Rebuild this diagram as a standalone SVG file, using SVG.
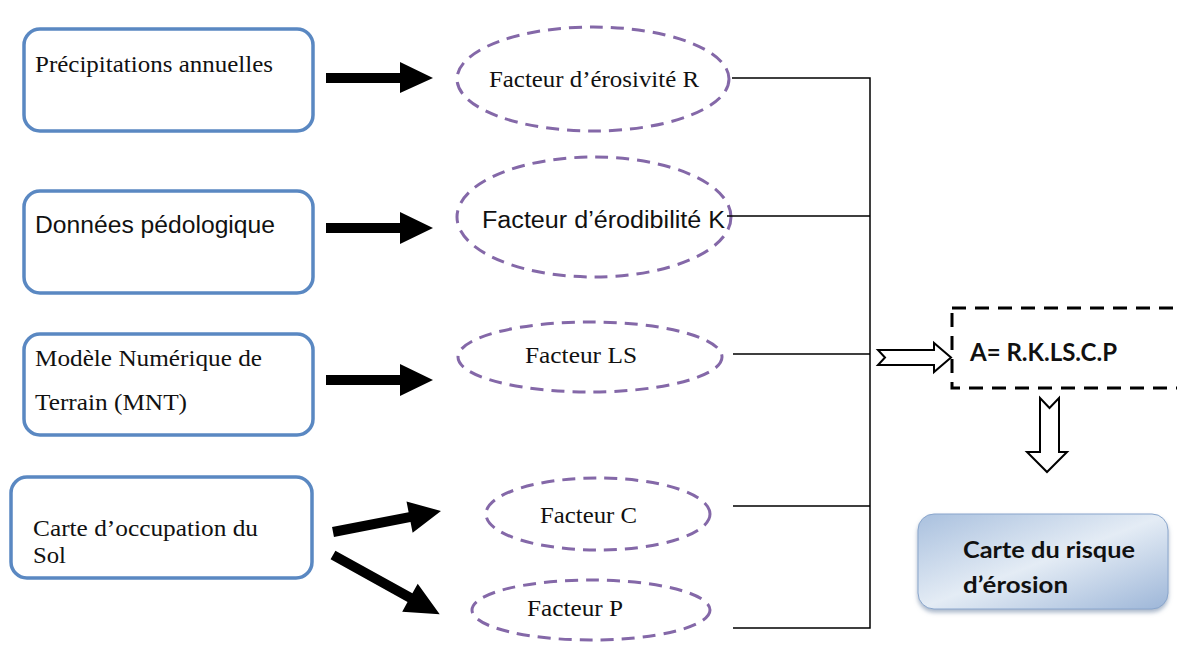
<svg xmlns="http://www.w3.org/2000/svg" width="1177" height="647" viewBox="0 0 1177 647">
<style>
.src{fill:#fff;stroke:#5a88c2;stroke-width:3.5}
.fac{fill:none;stroke:#8468a8;stroke-width:3;stroke-dasharray:13 8}
.serif{font-family:"Liberation Serif",serif;font-size:23px;fill:#111}
.sans{font-family:"Liberation Sans",Arial,sans-serif;font-size:23px;fill:#111}
.bold{font-family:Lato,"Open Sans",sans-serif;font-weight:bold;fill:#111}
.conn{fill:none;stroke:#000;stroke-width:1.5}
.thick{fill:#000}
.hollow{fill:#fff;stroke:#000;stroke-width:2;stroke-linejoin:miter}
</style>
<defs>
<linearGradient id="g" x1="0" y1="0" x2="1" y2="1">
<stop offset="0" stop-color="#a9c0de"/>
<stop offset="0.5" stop-color="#e4ecf5"/>
<stop offset="1" stop-color="#9db6d8"/>
</linearGradient>
<filter id="sh" x="-10%" y="-10%" width="120%" height="130%">
<feDropShadow dx="0" dy="3" stdDeviation="2" flood-color="#6f86a6" flood-opacity="0.6"/>
</filter>
</defs>
<rect width="1177" height="647" fill="#fff"/>

<g id="n-precip"><rect class="src" x="24" y="29" width="289" height="102" rx="16"/><text class="serif" x="35" y="72" textLength="238" lengthAdjust="spacingAndGlyphs">Précipitations annuelles</text></g>
<g id="n-pedo"><rect class="src" x="24" y="191" width="289" height="102" rx="16"/><text class="sans" x="35" y="233" textLength="240" lengthAdjust="spacingAndGlyphs">Données pédologique</text></g>
<g id="n-mnt"><rect class="src" x="24" y="334" width="289" height="101" rx="16"/><text class="serif" x="35" y="366" textLength="227" lengthAdjust="spacingAndGlyphs">Modèle Numérique de</text><text class="serif" x="35" y="410" textLength="152" lengthAdjust="spacingAndGlyphs">Terrain (MNT)</text></g>
<g id="n-occ"><rect class="src" x="11" y="477" width="301" height="101" rx="16"/><text class="serif" x="33" y="536" textLength="225" lengthAdjust="spacingAndGlyphs">Carte d’occupation du</text><text class="serif" x="33" y="563" textLength="33" lengthAdjust="spacingAndGlyphs">Sol</text></g>

<g id="n-R"><ellipse class="fac" cx="593" cy="79" rx="136" ry="52"/><text class="serif" x="489" y="87" textLength="210" lengthAdjust="spacingAndGlyphs">Facteur d’érosivité R</text></g>
<g id="n-K"><ellipse class="fac" cx="594" cy="217" rx="137" ry="60"/><text class="sans" x="482" y="228" textLength="243" lengthAdjust="spacingAndGlyphs">Facteur d’érodibilité K</text></g>
<g id="n-LS"><ellipse class="fac" cx="590" cy="357" rx="132" ry="35"/><text class="serif" x="525" y="363" textLength="112" lengthAdjust="spacingAndGlyphs">Facteur LS</text></g>
<g id="n-C"><ellipse class="fac" cx="598" cy="514" rx="112" ry="36"/><text class="serif" x="540" y="523" textLength="97" lengthAdjust="spacingAndGlyphs">Facteur C</text></g>
<g id="n-P"><ellipse class="fac" cx="591" cy="610" rx="119" ry="30"/><text class="serif" x="527" y="616" textLength="96" lengthAdjust="spacingAndGlyphs">Facteur P</text></g>

<g id="n-A"><rect x="952" y="308" width="240" height="80" fill="#fff" stroke="#000" stroke-width="3" stroke-dasharray="14 9"/><text class="bold" x="970" y="361" font-size="24" textLength="147" lengthAdjust="spacingAndGlyphs">A= R.K.LS.C.P</text></g>
<g id="n-carte"><rect x="918" y="514" width="250" height="95" rx="16" fill="url(#g)" stroke="#8aa6cc" stroke-width="1" filter="url(#sh)"/><text class="bold" x="963" y="558" font-size="23" textLength="172" lengthAdjust="spacingAndGlyphs">Carte du risque</text><text class="bold" x="963" y="593" font-size="23" textLength="105" lengthAdjust="spacingAndGlyphs">d’érosion</text></g>

<g id="connectors">
<path class="thick" d="M326 73H400V62L433 78L400 93V83H326Z"/>
<path class="thick" d="M326 223H400V212L433 228L400 244V233H326Z"/>
<path class="thick" d="M326 375H400V364L433 380L400 396V385H326Z"/>
<path class="thick" transform="translate(333 532) rotate(-11)" d="M0 -5H78V-16L110 0L78 16V5H0Z"/>
<path class="thick" transform="translate(333 555) rotate(29)" d="M0 -5H88V-16L122 0L88 16V5H0Z"/>
<path class="conn" d="M732 78H870M727 216H870M733 354H870M733 506H870M733 628H870M870 77.3V628.7"/>
<path class="hollow" d="M878 350H934V343L951 357.5L934 372V365H878L885 357.5Z"/>
<path class="hollow" stroke-width="3" d="M1040 398L1049.5 408L1059 398V452H1067L1047 472L1027 452H1040Z"/>
</g>
</svg>
